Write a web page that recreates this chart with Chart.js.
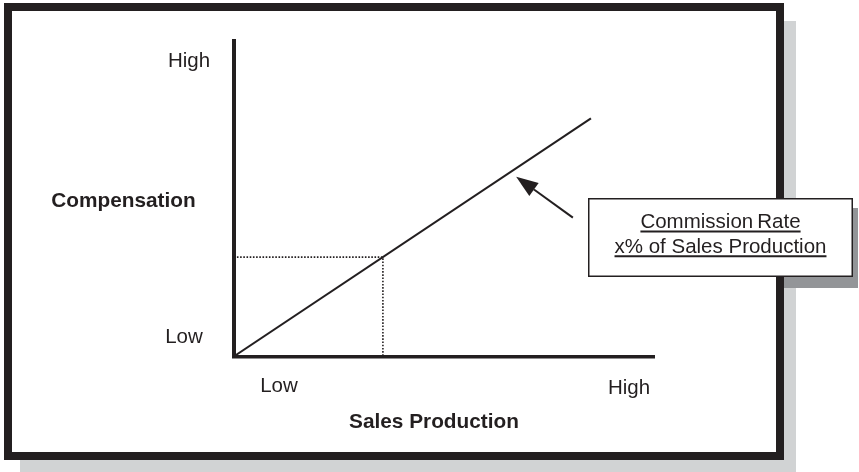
<!DOCTYPE html>
<html>
<head>
<meta charset="utf-8">
<script src="https://cdn.jsdelivr.net/npm/chart.js@4.4.1/dist/chart.umd.min.js"></script>
<style>
  html, body { margin: 0; padding: 0; background: #ffffff; }
  canvas { display: block; }
</style>
</head>
<body>
<canvas id="c" width="859" height="472"></canvas>
<script>
// ---- data ----
const salesProduction = [0, 8.5];          // x values of compensation line
const compensation    = [0, 7.55];         // y values of compensation line
const refSales        = [0, 3.55, 3.55];   // dotted guide x
const refComp         = [3.15, 3.15, 0];   // dotted guide y
const xTickLabels     = ['Low', 'High'];
const yTickLabels     = ['Low', 'High'];
const xTitle          = 'Sales Production';
const yTitle          = 'Compensation';
const calloutLines    = ['Commission\u2009Rate', 'x% of Sales Production'];

const INK = '#231f20';
const FONT = '"Liberation Sans", Arial, Helvetica, sans-serif';

const lineData = salesProduction.map((x, i) => ({ x, y: compensation[i] }));
const refData  = refSales.map((x, i) => ({ x, y: refComp[i] }));

const decor = {
  id: 'decor',
  beforeDraw(chart) {
    const ctx = chart.ctx;
    ctx.save();
    ctx.fillStyle = '#ffffff';
    ctx.fillRect(0, 0, chart.width, chart.height);
    // outer drop shadow
    ctx.fillStyle = '#d1d3d4';
    ctx.fillRect(20, 21, 776, 451);
    // callout box shadow
    ctx.fillStyle = '#939598';
    ctx.fillRect(598, 208, 260, 80);
    // frame
    ctx.fillStyle = '#ffffff';
    ctx.fillRect(4, 3, 780, 457);
    ctx.strokeStyle = INK;
    ctx.lineWidth = 8;
    ctx.strokeRect(8, 7, 772, 449);
    ctx.restore();
  },
  afterDraw(chart) {
    const ctx = chart.ctx;
    const xs = chart.scales.x, ys = chart.scales.y;
    ctx.save();
    ctx.fillStyle = INK;
    ctx.textBaseline = 'alphabetic';
    ctx.font = '20.5px ' + FONT;
    // y tick labels
    ctx.textAlign = 'center';
    ctx.fillText(yTickLabels[1], 189, 66.5);
    ctx.fillText(yTickLabels[0], 184, 342.7);
    // x tick labels
    ctx.fillText(xTickLabels[0], 279, 391.7);
    ctx.fillText(xTickLabels[1], 629, 394);
    // titles
    ctx.font = 'bold 20.8px ' + FONT;
    ctx.fillText(yTitle, 123.5, 207);
    ctx.fillText(xTitle, 434, 428.3);

    // arrow (pointing at the line)
    const tail = { x: xs.getPixelForValue(8.07), y: ys.getPixelForValue(4.4) };
    const tip  = { x: xs.getPixelForValue(6.72), y: ys.getPixelForValue(5.7) };
    const dx = tip.x - tail.x, dy = tip.y - tail.y;
    const L = Math.hypot(dx, dy), ux = dx / L, uy = dy / L;
    const hl = 22, hw = 8;
    const bx = tip.x - ux * hl, by = tip.y - uy * hl;
    ctx.strokeStyle = INK;
    ctx.lineWidth = 2;
    ctx.beginPath();
    ctx.moveTo(tail.x, tail.y);
    ctx.lineTo(bx, by);
    ctx.stroke();
    ctx.beginPath();
    ctx.moveTo(tip.x, tip.y);
    ctx.lineTo(bx - uy * hw, by + ux * hw);
    ctx.lineTo(bx + uy * hw, by - ux * hw);
    ctx.closePath();
    ctx.fill();

    // callout box
    ctx.fillStyle = '#ffffff';
    ctx.fillRect(588, 198, 265, 79);
    ctx.lineWidth = 1.5;
    ctx.strokeStyle = INK;
    ctx.strokeRect(588.75, 198.75, 263.5, 77.5);
    ctx.fillStyle = INK;
    ctx.font = '20.5px ' + FONT;
    ctx.textAlign = 'center';
    const cx = 720.5;
    const baselines = [228, 252.7];
    calloutLines.forEach((t, i) => {
      ctx.fillText(t, cx, baselines[i]);
      const w = ctx.measureText(t).width;
      ctx.beginPath();
      ctx.lineWidth = 2;
      ctx.moveTo(cx - w / 2, baselines[i] + 3.5);
      ctx.lineTo(cx + w / 2, baselines[i] + 3.5);
      ctx.stroke();
    });
    ctx.restore();
  }
};

new Chart(document.getElementById('c'), {
  type: 'scatter',
  data: {
    datasets: [
      {
        data: lineData,
        showLine: true,
        borderColor: INK,
        borderWidth: 2,
        pointRadius: 0,
        fill: false
      },
      {
        data: refData,
        showLine: true,
        borderColor: INK,
        borderWidth: 1.6,
        borderDash: [1.6, 1.6],
        pointRadius: 0,
        fill: false
      }
    ]
  },
  options: {
    responsive: false,
    animation: false,
    devicePixelRatio: 1,
    layout: { padding: { left: 233.7, right: 205, top: 41, bottom: 115.5 } },
    plugins: { legend: { display: false }, tooltip: { enabled: false } },
    scales: {
      x: {
        type: 'linear', min: 0, max: 10, position: 'bottom',
        ticks: { display: false }, grid: { display: false },
        border: { display: true, color: INK, width: 3.5 },
        afterFit: s => { s.height = 0; }
      },
      y: {
        type: 'linear', min: 0, max: 10, position: 'left',
        ticks: { display: false }, grid: { display: false },
        border: { display: true, color: INK, width: 4 },
        afterFit: s => { s.width = 0; }
      }
    }
  },
  plugins: [decor]
});
</script>
</body>
</html>
